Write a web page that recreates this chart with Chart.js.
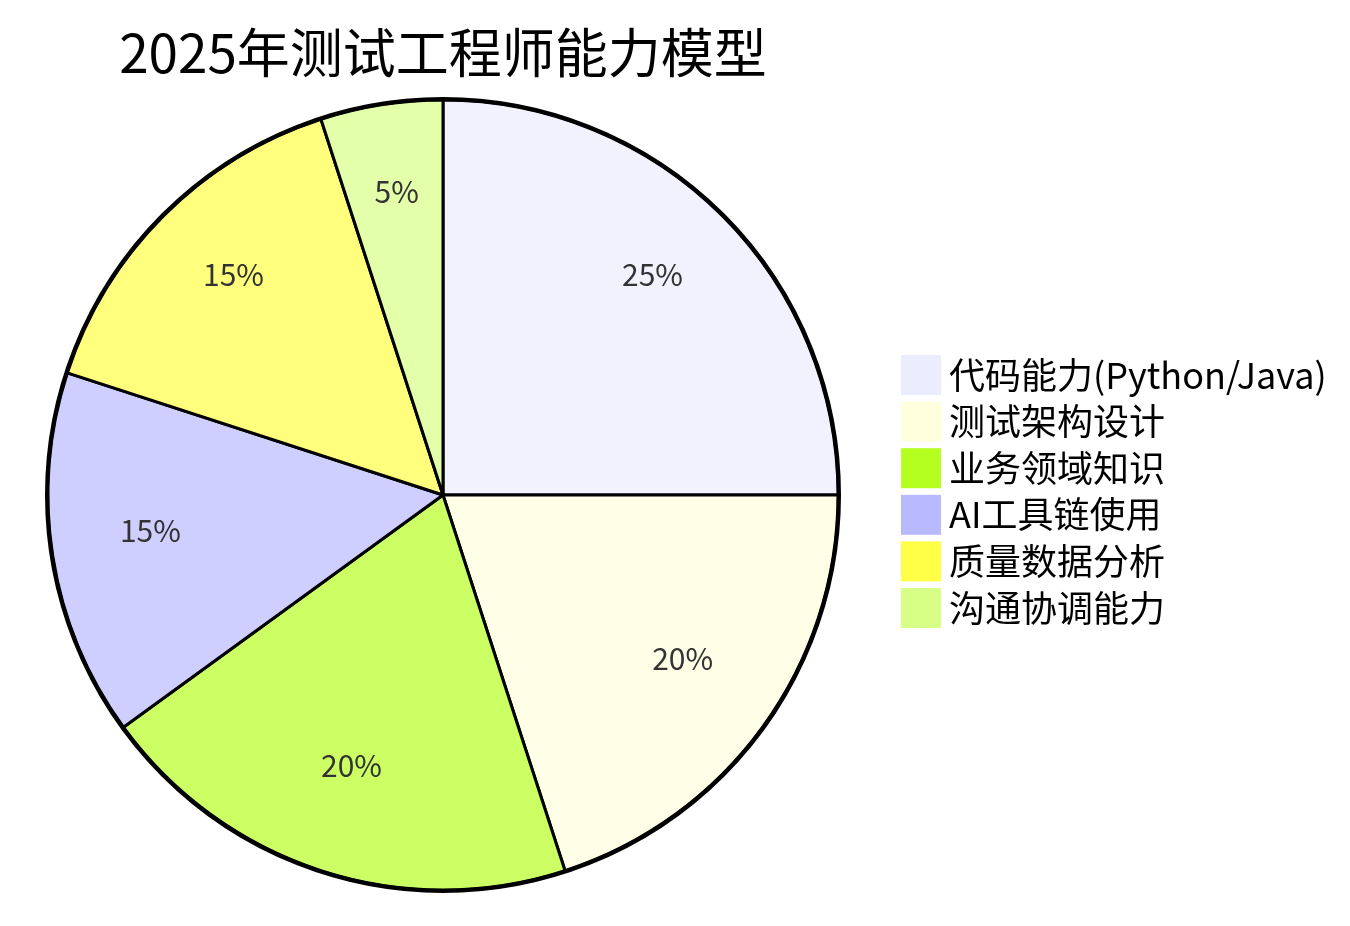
<!DOCTYPE html>
<html>
<head>
<meta charset="utf-8">
<script src="https://cdn.jsdelivr.net/npm/chart.js@4"></script>
<style>
  html, body { margin: 0; padding: 0; background: #fff; }
  #wrap { width: 1350px; height: 926px; position: relative; }
</style>
</head>
<body>
<div id="wrap"><canvas id="chart" width="1350" height="926"></canvas></div>
<script>
const chartTitle = '2025年测试工程师能力模型';
const categories = ['代码能力(Python/Java)', '测试架构设计', '业务领域知识', 'AI工具链使用', '质量数据分析', '沟通协调能力'];
const shares = [25, 20, 20, 15, 15, 5];
const sliceColors = ['#F2F2FF', '#FFFFE8', '#CBFF63', '#CECEFF', '#FFFF7D', '#E3FFAA'];
const legendColors = ['#ECECFF', '#FFFFDE', '#B5FF20', '#B9B9FF', '#FFFF45', '#D7FF86'];

const FONT = '"Noto Sans CJK SC", "Noto Sans", sans-serif';

// percent labels at 3/4 radius, outer ring, title and legend
const piePlugin = {
  id: 'pieExtras',
  afterDatasetsDraw(chart) {
    const ctx = chart.ctx;
    const arcs = chart.getDatasetMeta(0).data;
    const total = shares.reduce((a, b) => a + b, 0);
    ctx.save();
    ctx.font = '30px ' + FONT;
    ctx.fillStyle = '#333';
    ctx.textAlign = 'center';
    ctx.textBaseline = 'middle';
    arcs.forEach((arc, i) => {
      const p = arc.getProps(['x', 'y', 'startAngle', 'endAngle', 'outerRadius']);
      const mid = (p.startAngle + p.endAngle) / 2;
      const r = p.outerRadius * 0.75;
      ctx.fillText(Math.round(shares[i] / total * 100) + '%', p.x + Math.cos(mid) * r, p.y + Math.sin(mid) * r - 11);
    });
    const a0 = arcs[0];
    ctx.beginPath();
    ctx.arc(a0.x, a0.y, a0.outerRadius + 1, 0, Math.PI * 2);
    ctx.lineWidth = 4;
    ctx.strokeStyle = '#000';
    ctx.stroke();

    ctx.font = '53px ' + FONT;
    ctx.fillStyle = '#000';
    ctx.fillText(chartTitle, a0.x, 53);

    ctx.textAlign = 'left';
    ctx.font = '36px ' + FONT;
    categories.forEach((c, i) => {
      const y = 355 + i * 46.6;
      ctx.fillStyle = legendColors[i];
      ctx.fillRect(901, y, 40, 40);
      ctx.fillStyle = '#000';
      ctx.fillText(c, 949, y + 20);
    });
    ctx.restore();
  }
};

new Chart(document.getElementById('chart'), {
  type: 'pie',
  data: {
    labels: categories,
    datasets: [{
      data: shares,
      backgroundColor: sliceColors,
      borderColor: '#000',
      borderWidth: 3,
      radius: 395
    }]
  },
  options: {
    responsive: false,
    animation: false,
    devicePixelRatio: 1,
    layout: { padding: { left: 48, right: 512, top: 100, bottom: 36 } },
    plugins: {
      legend: { display: false },
      tooltip: { enabled: false },
      title: { display: false }
    }
  },
  plugins: [piePlugin]
});
</script>
</body>
</html>
